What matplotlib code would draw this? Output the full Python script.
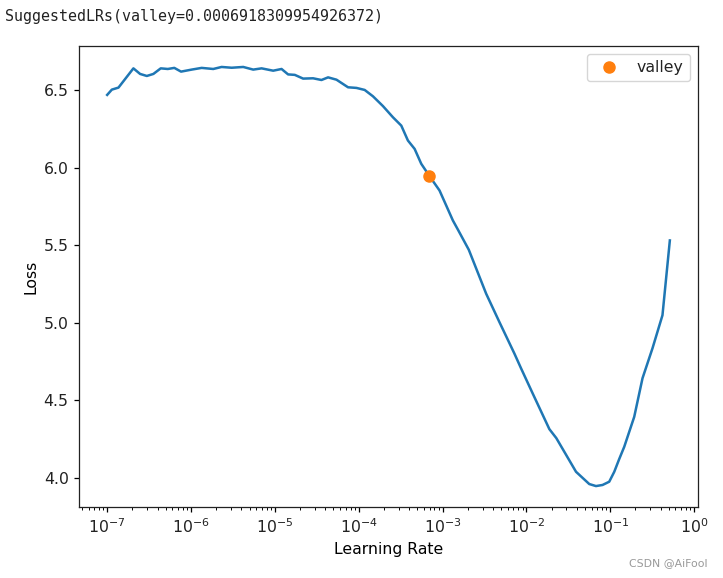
import numpy as np
import matplotlib
matplotlib.use('Agg')
import matplotlib.pyplot as plt

# log10 of learning rate and smoothed loss
log_lrs = [-7.0, -6.944, -6.865, -6.687, -6.607, -6.527, -6.449, -6.361, -6.277, -6.199,
           -6.119, -5.992, -5.873, -5.735, -5.635, -5.515, -5.377, -5.258, -5.158, -5.020,
           -4.920, -4.842, -4.762, -4.663, -4.544, -4.444, -4.365, -4.265, -4.127, -4.027,
           -3.929, -3.830, -3.711, -3.592, -3.492, -3.413, -3.333, -3.254, -3.155, -3.036,
           -2.956, -2.877, -2.818, -2.687, -2.480, -2.321, -2.143, -2.063, -1.925, -1.726,
           -1.643, -1.408, -1.250, -1.170, -1.092, -1.012, -0.952, -0.893, -0.833, -0.714,
           -0.615, -0.496, -0.377, -0.289]
losses = [6.468, 6.502, 6.515, 6.639, 6.603, 6.590, 6.603, 6.639, 6.635, 6.642,
          6.618, 6.631, 6.642, 6.635, 6.648, 6.643, 6.648, 6.631, 6.639, 6.624,
          6.635, 6.600, 6.597, 6.573, 6.575, 6.564, 6.581, 6.566, 6.517, 6.513,
          6.500, 6.459, 6.396, 6.324, 6.270, 6.174, 6.120, 6.024, 5.944, 5.852,
          5.755, 5.659, 5.601, 5.470, 5.187, 5.003, 4.801, 4.705, 4.544, 4.314,
          4.256, 4.039, 3.960, 3.947, 3.954, 3.975, 4.039, 4.121, 4.200, 4.393,
          4.642, 4.835, 5.048, 5.530]

valley_lr = 0.0006918309954926372
valley_loss = 5.944
decades = [-7, -6, -5, -4, -3, -2, -1, 0]

s = 1.13  # the original was a 72 dpi figure scaled up
plt.rcParams.update({
    'font.size': 10 * s,
    'axes.linewidth': 0.8 * s,
    'axes.edgecolor': '#222222',
    'xtick.major.size': 3.5 * s, 'ytick.major.size': 3.5 * s,
    'xtick.minor.size': 2 * s,
    'xtick.major.width': 0.8 * s, 'ytick.major.width': 0.8 * s,
    'xtick.minor.width': 0.6 * s,
    'text.color': '#222222', 'xtick.labelcolor': '#222222', 'ytick.labelcolor': '#222222',
})

fig = plt.figure(figsize=(7.23, 5.78), dpi=100)
ax = fig.add_axes([0.1093, 0.1228, 0.8561, 0.7976])

lrs = 10 ** np.array(log_lrs)
ax.plot(lrs, losses, color='#1f77b4', linewidth=1.6 * s)
ax.plot(valley_lr, valley_loss, 'o', color='#ff7f0e', markersize=8, label='valley')
ax.set_xscale('log')
ax.set_xticks([10.0 ** d for d in decades])
ax.set_ylabel('Loss')
ax.set_xlabel('Learning Rate')
ax.set_yticks([4.0, 4.5, 5.0, 5.5, 6.0, 6.5])
ax.legend(loc='upper right')

fig.text(0.007, 0.972, 'SuggestedLRs(valley=0.0006918309954926372)',
         family='DejaVu Sans Mono', fontsize=10.8, va='center', color='#222222')
fig.text(0.979, 0.025, 'CSDN @AiFool', fontsize=7.8, color='#999999', ha='right', va='center')

fig.savefig('out.png', dpi=100)
